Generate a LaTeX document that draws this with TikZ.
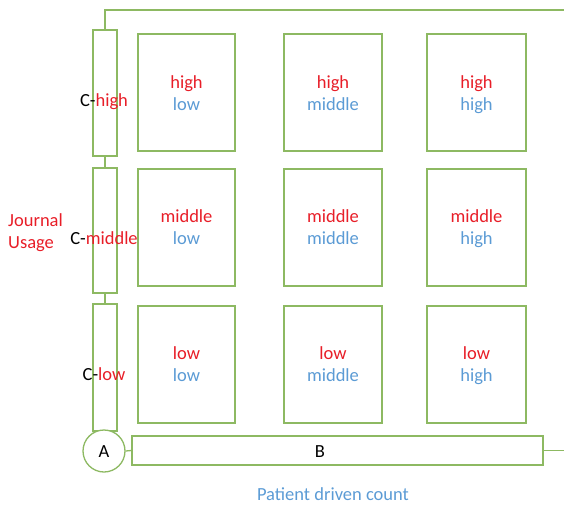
\documentclass[tikz,border=0pt]{standalone}
\usepackage{fontspec}
\setmainfont{Carlito}
\definecolor{gr}{RGB}{141,185,98}
\definecolor{rd}{RGB}{232,30,40}
\definecolor{bl}{RGB}{91,155,213}
\begin{document}
\begin{tikzpicture}[x=1pt,y=-1pt,
  box/.style={draw=gr,line width=1.3pt,fill=white,inner sep=0pt},
  conn/.style={draw=gr,line width=1.3pt},
  txt/.style={font=\fontsize{18.5}{22}\selectfont,inner sep=0pt,align=center}]
\useasboundingbox (0,0) rectangle (564,506);
% C bars
\node[box,minimum width=24pt,minimum height=126pt] (ch) at (105,93) {};
\node[box,minimum width=24pt,minimum height=125pt] (cm) at (105,230.5) {};
\node[box,minimum width=24pt,minimum height=127pt] (cl) at (105,367.5) {};
\node[box,circle,minimum size=42pt] (a) at (104,451) {};
\node[box,minimum width=411pt,minimum height=29pt] (b) at (337.5,450.5) {};
\coordinate (tc) at (105,10);
\coordinate (te) at (564,10);
\coordinate (be) at (564,450.5);
\draw[conn] (ch.north) -- (tc) -- (te);
\draw[conn] (ch.south) -- (cm.north);
\draw[conn] (cm.south) -- (cl.north);
\draw[conn] (a.east) -- (b.west);
\draw[conn] (b.east) -- (be);
% cells
\foreach \col/\cx/\w in {1/186.5/97,2/333/98,3/476.5/99}{
  \foreach \row/\cy in {1/92.5,2/227.5,3/364.5}{
    \node[box,minimum width=\w pt,minimum height=117pt] (c\row\col) at (\cx,\cy) {};
  }
}
\foreach \row/\cyt/\r in {1/95/high,2/229/middle,3/366.5/low}{
  \foreach \col/\cx/\bb in {1/186.5/low,2/333/middle,3/476.5/high}{
    \node[txt] (t\row\col) at (\cx,\cyt) {\strut\textcolor{rd}{\r}\\\strut\textcolor{bl}{\bb}};
  }
}
\node[txt] (lh) at (104,102) {\strut C-\textcolor{rd}{high}};
\node[txt] (lm) at (104,240) {\strut C-\textcolor{rd}{middle}};
\node[txt] (ll) at (104,376) {\strut C-\textcolor{rd}{low}};
\node[txt] (at) at (104,453) {\strut A};
\node[txt] (bt) at (320,453) {\strut B};
\node[txt,align=left,anchor=west,text=rd] (ju) at (8,233) {\strut Journal\\\strut Usage};
\node[txt,text=bl] (pd) at (333,496) {\strut Patient driven count};
\end{tikzpicture}
\end{document}
